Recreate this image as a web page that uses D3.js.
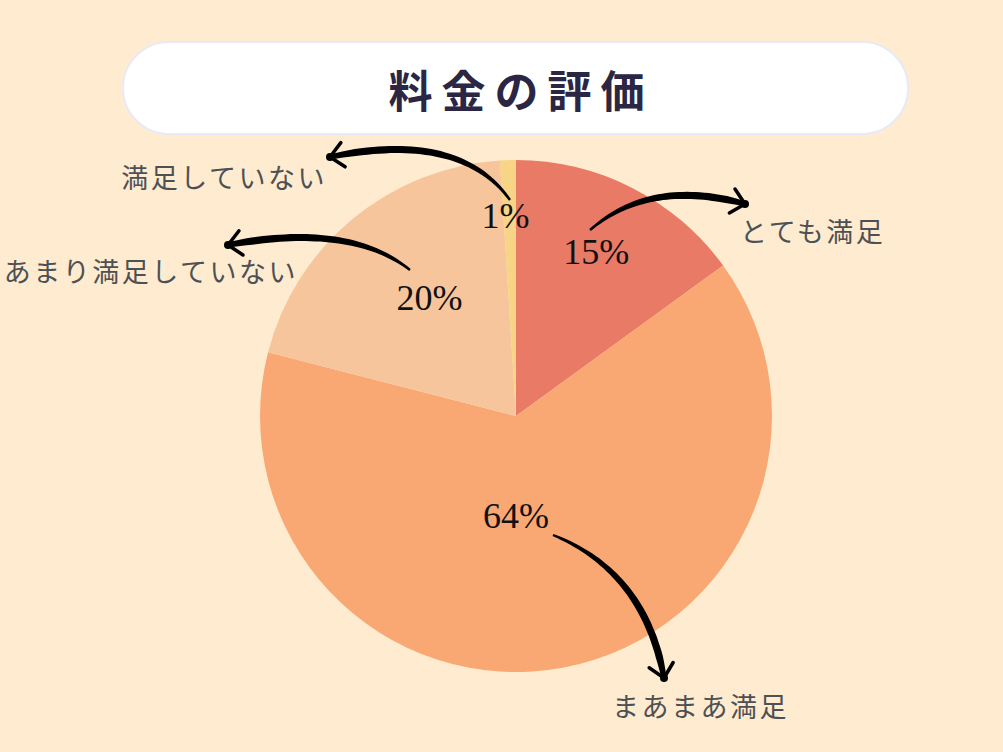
<!DOCTYPE html>
<html>
<head>
<meta charset="utf-8">
<script src="https://cdn.jsdelivr.net/npm/d3@7"></script>
<style>
    html, body { margin: 0; padding: 0; background: #feebd0; }
    svg { display: block; }
</style>
</head>
<body>
<div id="chart"></div>
<script>
// データ
const title = "料金の評価";
const categories = ["とても満足", "まあまあ満足", "あまり満足していない", "満足していない"];
const values = [15, 64, 20, 1];
const colors = ["#e87a66", "#f9a874", "#f7c59c", "#f8d486"];

const width = 1003, height = 752;
const cx = 516, cy = 416, radius = 256;

// ラベル位置 [角度(度), 中心からの距離]
const labelPolar = [[26, 183], [180, 99], [324, 147], [357, 201]];
// 矢印: 始点, 制御点, 終点 (中心からのオフセット)
const arrows = [
    {s: [74, -186], c: [134, -238], e: [229, -212]},
    {s: [37, 119], c: [129, 156], e: [148, 262]},
    {s: [-106, -146], c: [-166, -194], e: [-288, -171]},
    {s: [-6, -216], c: [-56, -286], e: [-186, -259]}
];
// 分類ラベル: 矢印の先からのオフセットと揃え
const catPos = [
    {dx: -5, dy: 38, anchor: "start"},
    {dx: -52, dy: 39, anchor: "start"},
    {dx: 70, dy: 37, anchor: "end"},
    {dx: -3, dy: 31, anchor: "end"}
];

let svg = d3.select("#chart").append("svg")
    .attr("width", width)
    .attr("height", height);

svg.append("rect")
    .attr("width", width).attr("height", height)
    .attr("fill", "#feebd0");

// タイトル
svg.append("rect")
    .attr("x", 123).attr("y", 42)
    .attr("width", 785).attr("height", 92)
    .attr("rx", 46).attr("ry", 46)
    .attr("fill", "#ffffff")
    .attr("stroke", "#e8eaf8")
    .attr("stroke-width", 2);

svg.append("text")
    .attr("x", 521).attr("y", 108)
    .attr("text-anchor", "middle")
    .attr("font-family", "'Noto Sans CJK JP', sans-serif")
    .attr("font-weight", "bold")
    .attr("font-size", 44)
    .attr("letter-spacing", 9)
    .attr("fill", "#2a2644")
    .text(title);

let pie = d3.pie().sort(null).value(d => d)(values);
let arc = d3.arc().innerRadius(0).outerRadius(radius);

let g = svg.append("g").attr("transform", "translate(" + cx + "," + cy + ")");

g.selectAll("path.slice")
    .data(pie)
    .enter().append("path")
    .attr("class", "slice")
    .attr("d", arc)
    .attr("fill", (d, i) => colors[i]);

// パーセント
pie.forEach((d, i) => {
    let a = labelPolar[i][0] * Math.PI / 180;
    let r = labelPolar[i][1];
    g.append("text")
        .attr("x", Math.sin(a) * r)
        .attr("y", -Math.cos(a) * r)
        .attr("dy", "0.35em")
        .attr("text-anchor", "middle")
        .attr("font-family", "'Liberation Serif', 'DejaVu Serif', serif")
        .attr("font-size", 36)
        .attr("fill", "#111")
        .text(Math.round(d.value / d3.sum(values) * 100) + "%");
});

// 手書き風の矢印
function quad(p0, p1, p2, t) {
    let u = 1 - t;
    return [u * u * p0[0] + 2 * u * t * p1[0] + t * t * p2[0],
            u * u * p0[1] + 2 * u * t * p1[1] + t * t * p2[1]];
}

arrows.forEach((ar, i) => {
    let n = 40;
    let pts = [];
    for (let k = 0; k <= n; k++) pts.push(quad(ar.s, ar.c, ar.e, k / n));
    let left = [], right = [];
    pts.forEach((p, k) => {
        let a = pts[Math.max(0, k - 1)], b = pts[Math.min(n, k + 1)];
        let dx = b[0] - a[0], dy = b[1] - a[1];
        let len = Math.sqrt(dx * dx + dy * dy);
        let t = k / n;
        // 始点は細く、矢じり側で太く
        let w = 1.2 + 2.4 * Math.sin(Math.PI / 2 * Math.min(1, t / 0.8));
        if (t > 0.9) w = 3.6 - (t - 0.9) * 10;
        left.push([p[0] - dy / len * w, p[1] + dx / len * w]);
        right.push([p[0] + dy / len * w, p[1] - dx / len * w]);
    });
    let poly = left.concat(right.reverse());
    g.append("path")
        .attr("d", "M" + poly.map(p => p[0].toFixed(1) + "," + p[1].toFixed(1)).join("L") + "Z")
        .attr("fill", "#000");

    // 矢じり
    let tip = ar.e;
    let prev = pts[n - 4];
    let ang = Math.atan2(tip[1] - prev[1], tip[0] - prev[0]);
    let head = 18;
    [-0.75, 0.75].forEach(o => {
        g.append("line")
            .attr("x1", tip[0]).attr("y1", tip[1])
            .attr("x2", tip[0] - head * Math.cos(ang + o))
            .attr("y2", tip[1] - head * Math.sin(ang + o))
            .attr("stroke", "#000")
            .attr("stroke-width", 3.5)
            .attr("stroke-linecap", "round");
    });
    g.append("circle")
        .attr("cx", tip[0]).attr("cy", tip[1])
        .attr("r", 4)
        .attr("fill", "#000");

    // 分類ラベル
    g.append("text")
        .attr("x", tip[0] + catPos[i].dx)
        .attr("y", tip[1] + catPos[i].dy)
        .attr("text-anchor", catPos[i].anchor)
        .attr("font-family", "'Noto Sans CJK JP', sans-serif")
        .attr("font-size", 27)
        .attr("letter-spacing", 2.5)
        .attr("fill", "#4e5154")
        .text(categories[i]);
});
</script>
</body>
</html>
